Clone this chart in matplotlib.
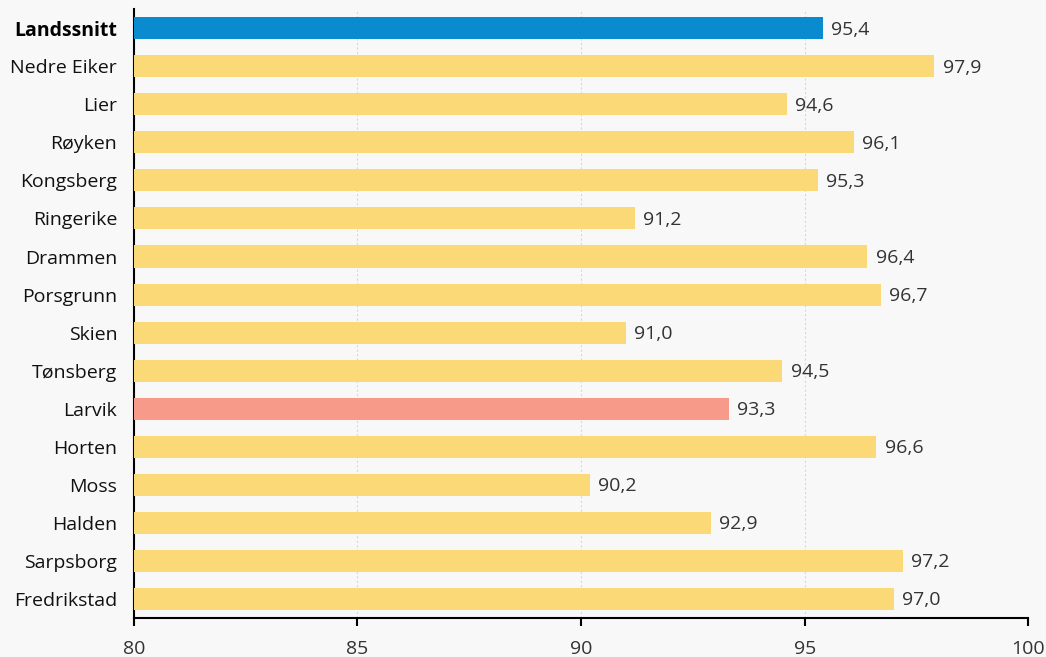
import matplotlib.pyplot as plt

# data, top to bottom
kommuner = ['Landssnitt', 'Nedre Eiker', 'Lier', 'Røyken', 'Kongsberg', 'Ringerike',
            'Drammen', 'Porsgrunn', 'Skien', 'Tønsberg', 'Larvik', 'Horten',
            'Moss', 'Halden', 'Sarpsborg', 'Fredrikstad']
verdier = [95.4, 97.9, 94.6, 96.1, 95.3, 91.2, 96.4, 96.7, 91.0, 94.5, 93.3, 96.6,
           90.2, 92.9, 97.2, 97.0]
x_ticks = [80, 85, 90, 95, 100]

plt.rcParams['font.family'] = ['Open Sans', 'DejaVu Sans']

bg = '#f8f8f8'
fig = plt.figure(figsize=(10.46, 6.57), dpi=100, facecolor=bg)
ax = fig.add_axes([0.128, 0.0594, 0.855, 0.9266], facecolor=bg)

colors = []
for k in kommuner:
    if k == 'Landssnitt':
        colors.append('#0a8acf')
    elif k == 'Larvik':
        colors.append('#f79a8a')
    else:
        colors.append('#fcd977')

y = list(range(len(kommuner)))
ax.barh(y, [v - 80 for v in verdier], left=80, height=0.58, color=colors, zorder=3)

for yi, v in zip(y, verdier):
    ax.annotate(f'{v:.1f}'.replace('.', ','), (v, yi), xytext=(6, -1),
                textcoords='offset points', va='center', ha='left',
                fontsize=14, color='#333333')

ax.set_xlim(80, 100)
ax.set_ylim(len(kommuner) - 0.5, -0.5)
ax.set_xticks(x_ticks)
ax.set_xticklabels([str(t) for t in x_ticks], fontsize=14, color='#333333')
ax.set_yticks(y)
ax.set_yticklabels(kommuner, fontsize=14, color='#111111')
ax.get_yticklabels()[0].set_fontweight('bold')
ax.get_yticklabels()[0].set_color('black')

ax.tick_params(axis='y', length=0, pad=12)
ax.tick_params(axis='x', length=6, width=1.5, pad=10)

for t in x_ticks[1:]:
    ax.axvline(t, color='#d8d8d8', linestyle=(0, (2, 2)), linewidth=0.8, zorder=1)

for s in ['top', 'right']:
    ax.spines[s].set_visible(False)
for s in ['left', 'bottom']:
    ax.spines[s].set_linewidth(1.5)
    ax.spines[s].set_color('black')

fig.savefig('out.png', dpi=100, facecolor=bg)
